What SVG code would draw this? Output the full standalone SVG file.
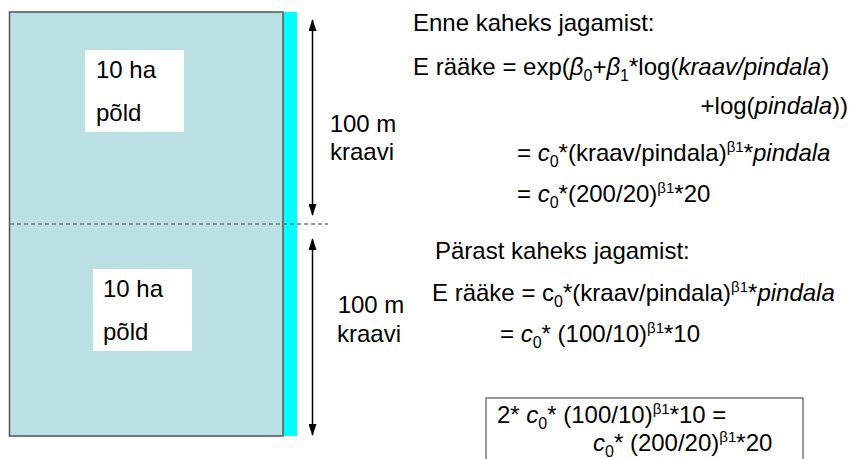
<svg xmlns="http://www.w3.org/2000/svg" width="850" height="459" viewBox="0 0 850 459">
  <style>
    text { font-family: "Liberation Sans", Arial, sans-serif; font-size: 24px; fill: #000; }
    .i { font-style: italic; }
    .sub { font-size: 16px; }
    .sup { font-size: 15px; }
    .field { fill: #BBE0E3; stroke: #555; stroke-width: 1.5; }
    .ditch { fill: #00FFFF; }
    .label { fill: #fff; }
    .dim { stroke: #000; stroke-width: 1.5; fill: none; }
    .split { stroke: #777; stroke-width: 1.5; stroke-dasharray: 4 3; fill: none; }
    .result { fill: #fff; stroke: #555; stroke-width: 1.2; }
  </style>
  <defs>
    <marker id="head" viewBox="0 0 12 8" refX="11" refY="4" markerWidth="13" markerHeight="8" markerUnits="userSpaceOnUse" orient="auto-start-reverse">
      <path d="M0,0 L12,4 L0,8 Z" fill="#000"/>
    </marker>
  </defs>

  <rect width="850" height="459" fill="#fff"/>

  <!-- field and ditch -->
  <g id="field">
    <rect class="ditch" x="283" y="12" width="14" height="424"/>
    <rect class="field" x="9.5" y="12" width="273.5" height="424"/>
  </g>

  <!-- upper half label -->
  <g id="field-top">
    <rect class="label" x="85" y="50" width="99" height="82"/>
    <text x="96" y="78">10 ha</text>
    <text x="96" y="121">põld</text>
  </g>

  <!-- lower half label -->
  <g id="field-bottom">
    <rect class="label" x="93" y="269" width="99" height="82"/>
    <text x="103" y="297">10 ha</text>
    <text x="103" y="340">põld</text>
  </g>

  <!-- dimension lines and split line -->
  <g id="connectors">
    <line class="split" x1="10" y1="224" x2="328" y2="224"/>
    <line class="dim" x1="312.5" y1="20" x2="312.5" y2="215" marker-start="url(#head)" marker-end="url(#head)"/>
    <line class="dim" x1="312.5" y1="239" x2="312.5" y2="435" marker-start="url(#head)" marker-end="url(#head)"/>
  </g>

  <g id="ditch-top">
    <text x="363" y="132" text-anchor="middle">100 m</text>
    <text x="362" y="160" text-anchor="middle">kraavi</text>
  </g>
  <g id="ditch-bottom">
    <text x="371" y="313" text-anchor="middle">100 m</text>
    <text x="369" y="342" text-anchor="middle">kraavi</text>
  </g>

  <!-- before splitting -->
  <g id="before">
    <text x="413" y="31">Enne kaheks jagamist:</text>
    <text x="413" y="75">E rääke = exp(<tspan class="i">β</tspan><tspan class="sub" dy="6">0</tspan><tspan dy="-6">+</tspan><tspan class="i">β</tspan><tspan class="sub" dy="6">1</tspan><tspan dy="-6">*log(</tspan><tspan class="i">kraav/pindala</tspan>)</text>
    <text x="848" y="114" text-anchor="end">+log(<tspan class="i">pindala</tspan>))</text>
    <text x="517" y="161">= <tspan class="i">c</tspan><tspan class="sub" dy="6">0</tspan><tspan dy="-6">*(kraav/pindala)</tspan><tspan class="sup" dy="-9">β1</tspan><tspan dy="9">*</tspan><tspan class="i">pindala</tspan></text>
    <text x="517" y="202">= <tspan class="i">c</tspan><tspan class="sub" dy="6">0</tspan><tspan dy="-6">*(200/20)</tspan><tspan class="sup" dy="-9">β1</tspan><tspan dy="9">*20</tspan></text>
  </g>

  <!-- after splitting -->
  <g id="after">
    <text x="435" y="259">Pärast kaheks jagamist:</text>
    <text x="432" y="301">E rääke = c<tspan class="sub" dy="6">0</tspan><tspan dy="-6">*(kraav/pindala)</tspan><tspan class="sup" dy="-9">β1</tspan><tspan dy="9">*</tspan><tspan class="i">pindala</tspan></text>
    <text x="500" y="342">= <tspan class="i">c</tspan><tspan class="sub" dy="6">0</tspan><tspan dy="-6">* (100/10)</tspan><tspan class="sup" dy="-9">β1</tspan><tspan dy="9">*10</tspan></text>
  </g>

  <!-- comparison box -->
  <g id="comparison">
    <rect class="result" x="486" y="398" width="317" height="80"/>
    <text x="497" y="423">2* <tspan class="i">c</tspan><tspan class="sub" dy="6">0</tspan><tspan dy="-6">* (100/10)</tspan><tspan class="sup" dy="-9">β1</tspan><tspan dy="9">*10 =</tspan></text>
    <text x="593" y="451"><tspan class="i">c</tspan><tspan class="sub" dy="6">0</tspan><tspan dy="-6">* (200/20)</tspan><tspan class="sup" dy="-9">β1</tspan><tspan dy="9">*20</tspan></text>
  </g>
</svg>
